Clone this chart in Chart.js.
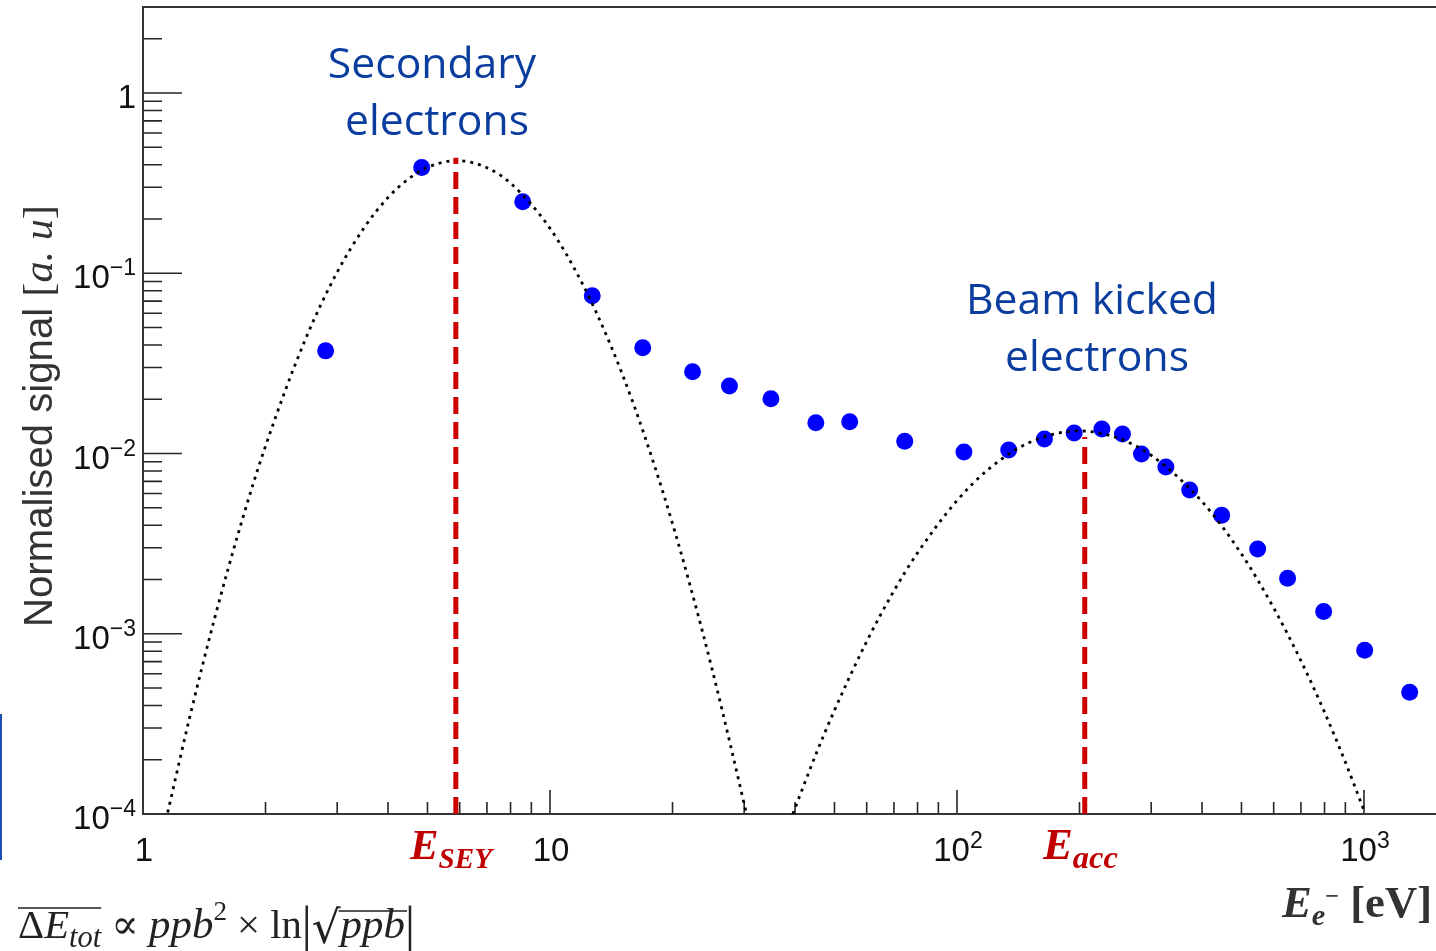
<!DOCTYPE html>
<html><head><meta charset="utf-8">
<script src="https://cdn.jsdelivr.net/npm/chart.js@4.4.1/dist/chart.umd.min.js"></script>
<style>
html,body{margin:0;padding:0;background:#fff;overflow:hidden}
#wrap{position:relative;width:1436px;height:951px}
#edge{position:absolute;left:0;top:714px;width:2px;height:146px;background:#1d4fb3}
</style></head><body>
<div id="wrap"><canvas id="c" width="1436" height="951"></canvas><div id="edge"></div></div>
<script>
// ---- data ----
const energy = [2.81, 4.84, 8.57, 12.7, 16.9, 22.4, 27.6, 34.9, 45.0, 54.5, 74.4, 104, 134, 164, 194, 227, 255, 284, 326, 373, 447, 548, 649, 796, 1004, 1295];
const signal = [0.0371, 0.386, 0.249, 0.075, 0.0386, 0.0284, 0.0237, 0.0201, 0.0148, 0.0150, 0.0117, 0.0102, 0.01045, 0.01205, 0.0130, 0.01368, 0.01283, 0.00994, 0.00841, 0.00627, 0.00455, 0.00295, 0.00203, 0.00133, 0.00081, 0.000473];

const seyFitE = [1.15, 1.3, 1.5, 1.75, 2, 2.5, 3, 3.5, 4, 4.5, 5, 5.9, 7, 8, 10, 12, 14, 16, 18, 20, 22, 25, 28, 30.4];
const seyFitS = [1.02e-4, 3.38e-4, 1.22e-3, 4.23e-3, 0.0110, 0.0424, 0.1014, 0.180, 0.263, 0.335, 0.387, 0.422, 0.385, 0.316, 0.1775, 0.0879, 0.0413, 0.0191, 0.00877, 0.00408, 0.00192, 6.41e-4, 2.22e-4, 1.0e-4];

const accFitE = [39.5, 45, 50, 60, 70, 80, 100, 120, 150, 200, 250, 300, 400, 500, 600, 700, 800, 900, 1000];
const accFitS = [1.0e-4, 2.14e-4, 3.76e-4, 9.06e-4, 1.73e-3, 2.81e-3, 5.48e-3, 8.24e-3, 0.01146, 0.01334, 0.01213, 9.78e-3, 5.41e-3, 2.77e-3, 1.39e-3, 7.08e-4, 3.67e-4, 1.94e-4, 1.05e-4];

const eSEY = 5.87, eSEYTop = 0.438;
const eAcc = 206, eAccTop = 0.01235;

const xRange = [1, 1503];
const yRange = [1e-4, 3];
const xDecades = [1, 10, 100, 1000];
const xDecadeBase = ['1', '10', '10', '10'];
const xDecadeSup = ['', '', '2', '3'];
const yDecades = [1e-4, 1e-3, 1e-2, 1e-1, 1];
const yDecadeBase = ['10', '10', '10', '10', '1'];
const yDecadeSup = ['−4', '−3', '−2', '−1', ''];
const minorSteps = [1, 2, 3, 4, 5, 6, 7, 8, 9];

// ---- helpers ----
function buildTickValues(decades, max) {
  const out = [];
  for (const d of decades) for (const m of minorSteps) { const v = d * m; if (v <= max * 1.0001) out.push(v); }
  return out;
}
const xTickValues = buildTickValues(xDecades, xRange[1]);
const yTickValues = buildTickValues(yDecades, yRange[1]);
function decadeIndex(v, decades) {
  for (let i = 0; i < decades.length; i++) if (Math.abs(v / decades[i] - 1) < 1e-6) return i;
  return -1;
}
function fontStr(r, k) { return `${r.style || 'normal'} ${r.weight || 'normal'} ${(r.size * k).toFixed(2)}px ${r.family}`; }
function runsWidth(ctx, runs, k) { let w = 0; for (const r of runs) { ctx.font = fontStr(r, k); w += ctx.measureText(r.t).width; } return w; }
function drawRuns(ctx, x, y, runs, k, color) {
  const pos = [];
  for (const r of runs) {
    ctx.font = fontStr(r, k); ctx.fillStyle = r.color || color;
    const w = ctx.measureText(r.t).width;
    ctx.fillText(r.t, x, y + (r.dy || 0) * k);
    pos.push({ x0: x, x1: x + w }); x += w;
  }
  return pos;
}
function fitRuns(ctx, runs, width) { return width / runsWidth(ctx, runs, 1); }

const SERIF = '"Liberation Serif", "DejaVu Serif", serif';
const SANS = '"Liberation Sans", Arial, sans-serif';
const NOTE = '"Open Sans", "Noto Sans", sans-serif';

function tickRuns(base, sup) {
  const r = [{ t: base, size: 33, family: SANS }];
  if (sup) r.push({ t: sup, size: 23, family: SANS, dy: -13 });
  return r;
}

// ---- plugins ----
const rootAxes = {
  id: 'rootAxes',
  beforeDatasetsDraw(chart) {
    const { ctx, chartArea: a, scales: { x, y } } = chart;
    ctx.save();
    ctx.strokeStyle = '#262626'; ctx.lineWidth = 1.6;
    ctx.beginPath();
    for (const v of xTickValues) {
      const px = x.getPixelForValue(v);
      if (px < a.left + 1 || px > a.right) continue;
      const L = decadeIndex(v, xDecades) >= 0 ? 24 : 12;
      ctx.moveTo(px, a.bottom); ctx.lineTo(px, a.bottom - L);
    }
    for (const v of yTickValues) {
      const py = y.getPixelForValue(v);
      if (py < a.top + 1 || py > a.bottom - 1) continue;
      const L = decadeIndex(v, yDecades) >= 0 ? 39 : 19;
      ctx.moveTo(a.left, py); ctx.lineTo(a.left + L, py);
    }
    ctx.stroke();
    ctx.lineWidth = 2; ctx.strokeStyle = '#333';
    ctx.beginPath();
    ctx.moveTo(a.right + 2, a.top); ctx.lineTo(a.left, a.top); ctx.lineTo(a.left, a.bottom); ctx.lineTo(a.right + 2, a.bottom);
    ctx.stroke();

    // tick labels with proper superscripts, positioned by the scales
    ctx.textBaseline = 'alphabetic';
    for (let i = 0; i < xDecades.length; i++) {
      const px = x.getPixelForValue(xDecades[i]);
      const runs = tickRuns(xDecadeBase[i], xDecadeSup[i]);
      const w = runsWidth(ctx, runs, 1);
      drawRuns(ctx, px - w / 2 + 1, a.bottom + 47, runs, 1, '#111');
    }
    for (let i = 0; i < yDecades.length; i++) {
      const py = y.getPixelForValue(yDecades[i]);
      const runs = tickRuns(yDecadeBase[i], yDecadeSup[i]);
      const w = runsWidth(ctx, runs, 1);
      drawRuns(ctx, a.left - 7 - w, py + 15, runs, 1, '#111');
    }
    ctx.restore();
  }
};

const texts = {
  id: 'texts',
  afterDraw(chart) {
    const ctx = chart.ctx;
    ctx.save();
    ctx.textBaseline = 'alphabetic'; ctx.textAlign = 'left';

    // Annotations
    const blue = '#0b3d9e';
    const noteRun = t => [{ t, size: 40, family: NOTE }];
    const kN = fitRuns(ctx, noteRun('Beam kicked'), 252);
    const notes = [['Secondary', 432, 78], ['electrons', 437, 135], ['Beam kicked', 1092, 314], ['electrons', 1097, 371]];
    for (const [t, cx, by] of notes) {
      const w = runsWidth(ctx, noteRun(t), kN);
      drawRuns(ctx, cx - w / 2, by, noteRun(t), kN, blue);
    }

    // Red energy labels
    const red = '#c00000';
    const sey = [{ t: 'E', size: 44, family: SERIF, style: 'italic', weight: 'bold' }, { t: 'SEY', size: 30, family: SERIF, style: 'italic', weight: 'bold', dy: 9 }];
    drawRuns(ctx, 410, 859, sey, fitRuns(ctx, sey, 82), red);
    const acc = [{ t: 'E', size: 44, family: SERIF, style: 'italic', weight: 'bold' }, { t: 'acc', size: 32, family: SERIF, style: 'italic', weight: 'bold', dy: 9 }];
    drawRuns(ctx, 1043, 859, acc, fitRuns(ctx, acc, 75), red);

    // X axis title
    const xt = [
      { t: 'E', size: 44, family: SERIF, style: 'italic', weight: 'bold' },
      { t: 'e', size: 30, family: SERIF, style: 'italic', weight: 'bold', dy: 8 },
      { t: '−', size: 24, family: SERIF, weight: 'bold', dy: -13 },
      { t: ' [eV]', size: 44, family: SERIF, weight: 'bold' }
    ];
    drawRuns(ctx, 1282, 917, xt, fitRuns(ctx, xt, 150), '#333');

    // Y axis title (rotated)
    const yt = [
      { t: 'Normalised signal ', size: 38, family: SANS },
      { t: '[', size: 40, family: SERIF },
      { t: 'a. u', size: 40, family: SERIF, style: 'italic' },
      { t: ']', size: 40, family: SERIF }
    ];
    ctx.save();
    ctx.translate(52, 627);
    ctx.rotate(-Math.PI / 2);
    drawRuns(ctx, 0, 0, yt, fitRuns(ctx, yt, 422), '#333');
    ctx.restore();

    // Equation bottom-left
    const eq = [
      { t: 'Δ', size: 36, family: SERIF },
      { t: 'E', size: 36, family: SERIF, style: 'italic' },
      { t: 'tot', size: 27, family: SERIF, style: 'italic', dy: 8 },
      { t: ' ∝ ', size: 36, family: SERIF },
      { t: 'ppb', size: 38, family: SERIF, style: 'italic' },
      { t: '2', size: 24, family: SERIF, dy: -16 },
      { t: ' × ', size: 36, family: SERIF },
      { t: 'ln', size: 36, family: SERIF },
      { t: '|', size: 44, family: SERIF, dy: 3 },
      { t: '√', size: 40, family: '"DejaVu Serif", serif', dy: 4 },
      { t: 'ppb', size: 38, family: SERIF, style: 'italic' },
      { t: '|', size: 44, family: SERIF, dy: 3 }
    ];
    const kE = fitRuns(ctx, eq, 397);
    const pos = drawRuns(ctx, 18, 938, eq, kE, '#222');
    ctx.strokeStyle = '#222'; ctx.lineWidth = 1.6;
    ctx.beginPath();
    ctx.moveTo(pos[0].x0, 908); ctx.lineTo(pos[2].x1, 908);
    ctx.moveTo(pos[9].x1 - 2, 911); ctx.lineTo(pos[10].x1 + 2, 911);
    ctx.stroke();
    ctx.restore();
  }
};

const pts = (xs, ys) => xs.map((v, i) => ({ x: v, y: ys[i] }));

new Chart(document.getElementById('c'), {
  type: 'scatter',
  data: {
    datasets: [
      { label: 'Data', data: pts(energy, signal), pointRadius: 8.5, pointHoverRadius: 8.5, pointBackgroundColor: '#0000ff', pointBorderWidth: 0, showLine: false, order: 3 },
      { label: 'SEY fit', data: pts(seyFitE, seyFitS), showLine: true, pointRadius: 0, borderColor: '#000', borderWidth: 2.8, borderDash: [3, 5], cubicInterpolationMode: 'monotone', fill: false, order: 2 },
      { label: 'Beam fit', data: pts(accFitE, accFitS), showLine: true, pointRadius: 0, borderColor: '#000', borderWidth: 2.8, borderDash: [3, 5], cubicInterpolationMode: 'monotone', fill: false, order: 2 },
      { label: 'E_SEY', data: [{ x: eSEY, y: yRange[0] }, { x: eSEY, y: eSEYTop }], showLine: true, pointRadius: 0, borderColor: '#cc0000', borderWidth: 5, borderDash: [17, 8], order: 1 },
      { label: 'E_acc', data: [{ x: eAcc, y: yRange[0] }, { x: eAcc, y: eAccTop }], showLine: true, pointRadius: 0, borderColor: '#cc0000', borderWidth: 5, borderDash: [17, 8], order: 1 }
    ]
  },
  options: {
    responsive: false, animation: false, events: [],
    layout: { autoPadding: false, padding: { top: 7, left: 0, right: 0, bottom: 0 } },
    plugins: { legend: { display: false }, tooltip: { enabled: false } },
    scales: {
      x: {
        type: 'logarithmic', position: 'bottom', min: xRange[0], max: xRange[1],
        afterFit(s) { s.height = 137; s.paddingLeft = 0; s.paddingRight = 0; s.paddingTop = 0; s.paddingBottom = 0; },
        afterBuildTicks(s) { s.ticks = xTickValues.map(v => ({ value: v })); },
        grid: { display: false, drawTicks: false }, border: { display: false },
        ticks: { display: false, autoSkip: false, maxRotation: 0, minRotation: 0 }
      },
      y: {
        type: 'logarithmic', position: 'left', min: yRange[0], max: yRange[1],
        afterFit(s) { s.width = 143; s.paddingLeft = 0; s.paddingRight = 0; s.paddingTop = 0; s.paddingBottom = 0; },
        afterBuildTicks(s) { s.ticks = yTickValues.map(v => ({ value: v })); },
        grid: { display: false, drawTicks: false }, border: { display: false },
        ticks: { display: false, autoSkip: false }
      }
    }
  },
  plugins: [rootAxes, texts]
});
</script>
</body></html>
